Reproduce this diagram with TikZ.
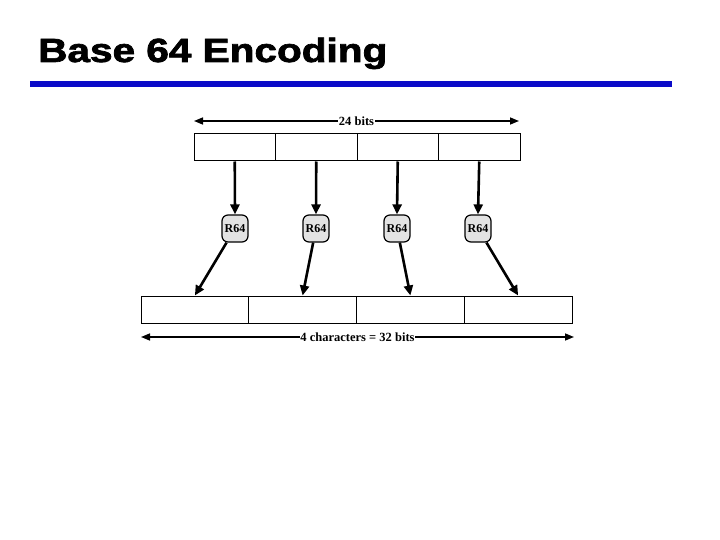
\documentclass[tikz,border=0pt]{standalone}
\usepackage{fontspec}
\setmainfont{Liberation Serif}
\newfontfamily\titlefont{Liberation Sans}[BoldFeatures={FakeBold=2}]
\usetikzlibrary{arrows.meta}
\definecolor{titleblue}{RGB}{10,10,200}
\tikzset{
  cellbox/.style={draw, line width=1pt, minimum height=27pt, inner sep=0pt, anchor=center},
  topcell/.style={cellbox, minimum width=81.5pt},
  botcell/.style={cellbox, minimum width=107.75pt},
  rbox/.style={draw, line width=1.2pt, fill=gray!22, rounded corners=6pt, minimum width=26pt, minimum height=27pt, inner sep=0pt, font=\bfseries\fontsize{12}{13}\selectfont},
  flow/.style={line width=2.6pt, -{Triangle[length=10pt,width=9pt]}},
  dim/.style={line width=1.5pt, {Triangle[length=9pt,width=7pt]}-{Triangle[length=9pt,width=7pt]}},
  dimlabel/.style={fill=white, inner sep=0.5pt, font=\bfseries\fontsize{12.5}{14}\selectfont}
}
\begin{document}
\begin{tikzpicture}[x=1pt,y=-1pt]
\useasboundingbox (0,0) rectangle (720,540);
% title
\node[anchor=base west, inner sep=0pt, xscale=1.21, font=\titlefont\bfseries\fontsize{33.5}{36}\selectfont] (title) at (38,62) {Base 64 Encoding};
\draw[titleblue, line width=5.5pt] (30,84) -- (672,84);
% top cells
\node[topcell] (t1) at (234.75,147.5) {};
\node[topcell] (t2) at (316.25,147.5) {};
\node[topcell] (t3) at (397.75,147.5) {};
\node[topcell] (t4) at (479.25,147.5) {};
% R64 boxes
\node[rbox] (r1) at (235,228.5) {R64};
\node[rbox] (r2) at (316,228.5) {R64};
\node[rbox] (r3) at (397,228.5) {R64};
\node[rbox] (r4) at (478,228.5) {R64};
% bottom cells
\node[botcell] (b1) at (194.875,309.5) {};
\node[botcell] (b2) at (302.625,309.5) {};
\node[botcell] (b3) at (410.375,309.5) {};
\node[botcell] (b4) at (518.125,309.5) {};
% arrows
\foreach \i in {1,2,3,4} {
  \draw[flow] (t\i.south) -- (r\i.north);
  \draw[flow] (r\i) -- (b\i.north);
}
% dimension lines
\coordinate (da) at (194,121);
\coordinate (db) at (519,121);
\draw[dim] (da) -- node[dimlabel] (l1) {24 bits} (db);
\coordinate (dc) at (141,337);
\coordinate (dd) at (574,337);
\draw[dim] (dc) -- node[dimlabel] (l2) {4 characters = 32 bits} (dd);
\end{tikzpicture}
\end{document}
